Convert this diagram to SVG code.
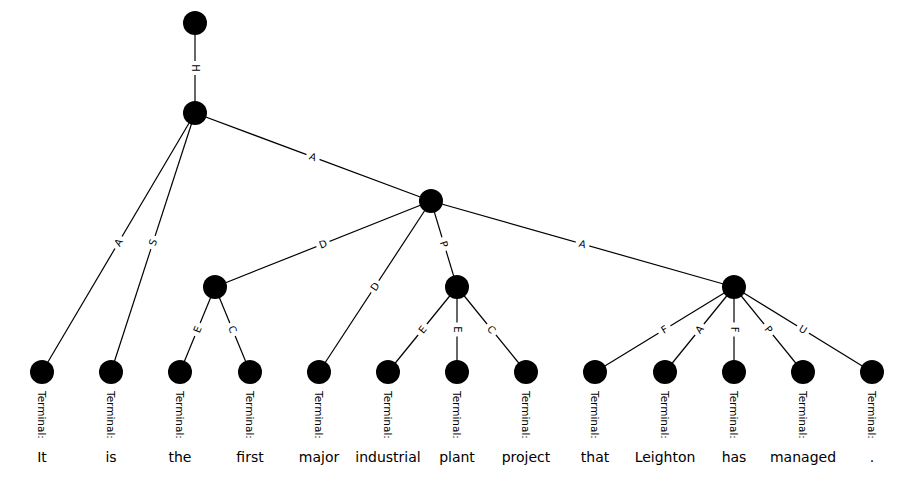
<svg xmlns="http://www.w3.org/2000/svg" width="914" height="481" viewBox="0 0 914 481">
  <style>
    .edge { stroke: #000; stroke-width: 1.2; fill: none; }
    .node { fill: #000; }
    .elbl rect { fill: #fff; stroke: none; }
    .elbl text { font-family: "DejaVu Sans", sans-serif; font-size: 10px; text-anchor: middle; dominant-baseline: central; fill: #000; }
    .tag { font-family: "DejaVu Sans", sans-serif; font-size: 10.5px; dominant-baseline: central; fill: #000; }
    .word { font-family: "DejaVu Sans", sans-serif; font-size: 14px; text-anchor: middle; fill: #000; }
  </style>
  <rect width="914" height="481" fill="#fff"/>

  <!-- tree edges -->
  <g id="connectors">
    <line class="edge" x1="195" y1="23" x2="195" y2="113"/>
    <line class="edge" x1="195" y1="113" x2="42" y2="372"/>
    <line class="edge" x1="195" y1="113" x2="111" y2="372"/>
    <line class="edge" x1="195" y1="113" x2="431" y2="201"/>
    <line class="edge" x1="431" y1="201" x2="215" y2="287"/>
    <line class="edge" x1="431" y1="201" x2="319" y2="372"/>
    <line class="edge" x1="431" y1="201" x2="457" y2="287"/>
    <line class="edge" x1="431" y1="201" x2="734" y2="287"/>
    <line class="edge" x1="215" y1="287" x2="180" y2="372"/>
    <line class="edge" x1="215" y1="287" x2="250" y2="372"/>
    <line class="edge" x1="457" y1="287" x2="388" y2="372"/>
    <line class="edge" x1="457" y1="287" x2="457" y2="372"/>
    <line class="edge" x1="457" y1="287" x2="526" y2="372"/>
    <line class="edge" x1="734" y1="287" x2="595" y2="372"/>
    <line class="edge" x1="734" y1="287" x2="665" y2="372"/>
    <line class="edge" x1="734" y1="287" x2="734" y2="372"/>
    <line class="edge" x1="734" y1="287" x2="803" y2="372"/>
    <line class="edge" x1="734" y1="287" x2="872" y2="372"/>

    <!-- edge labels, set along each edge -->
    <g class="elbl" transform="translate(195,68) rotate(90)"><rect x="-7" y="-6" width="14" height="12"/><text>H</text></g>
    <g class="elbl" transform="translate(118.5,242.5) rotate(-59.43)"><rect x="-7" y="-6" width="14" height="12"/><text>A</text></g>
    <g class="elbl" transform="translate(153,242.5) rotate(-72.03)"><rect x="-7" y="-6" width="14" height="12"/><text>S</text></g>
    <g class="elbl" transform="translate(313,157) rotate(20.45)"><rect x="-7" y="-6" width="14" height="12"/><text>A</text></g>
    <g class="elbl" transform="translate(323,244) rotate(-21.7)"><rect x="-7" y="-6" width="14" height="12"/><text>D</text></g>
    <g class="elbl" transform="translate(375,286.5) rotate(-56.78)"><rect x="-7" y="-6" width="14" height="12"/><text>D</text></g>
    <g class="elbl" transform="translate(444,244) rotate(73.18)"><rect x="-7" y="-6" width="14" height="12"/><text>P</text></g>
    <g class="elbl" transform="translate(582.5,244) rotate(15.85)"><rect x="-7" y="-6" width="14" height="12"/><text>A</text></g>
    <g class="elbl" transform="translate(197.5,329.5) rotate(-67.62)"><rect x="-7" y="-6" width="14" height="12"/><text>E</text></g>
    <g class="elbl" transform="translate(232.5,329.5) rotate(67.62)"><rect x="-7" y="-6" width="14" height="12"/><text>C</text></g>
    <g class="elbl" transform="translate(422.5,329.5) rotate(-50.93)"><rect x="-7" y="-6" width="14" height="12"/><text>E</text></g>
    <g class="elbl" transform="translate(457,329.5) rotate(90)"><rect x="-7" y="-6" width="14" height="12"/><text>E</text></g>
    <g class="elbl" transform="translate(491.5,329.5) rotate(50.93)"><rect x="-7" y="-6" width="14" height="12"/><text>C</text></g>
    <g class="elbl" transform="translate(664.5,329.5) rotate(-31.45)"><rect x="-7" y="-6" width="14" height="12"/><text>F</text></g>
    <g class="elbl" transform="translate(699.5,329.5) rotate(-50.93)"><rect x="-7" y="-6" width="14" height="12"/><text>A</text></g>
    <g class="elbl" transform="translate(734,329.5) rotate(90)"><rect x="-7" y="-6" width="14" height="12"/><text>F</text></g>
    <g class="elbl" transform="translate(768.5,329.5) rotate(50.93)"><rect x="-7" y="-6" width="14" height="12"/><text>P</text></g>
    <g class="elbl" transform="translate(803,329.5) rotate(31.63)"><rect x="-7" y="-6" width="14" height="12"/><text>U</text></g>
  </g>

  <!-- inner nodes -->
  <g id="n-root"><circle class="node" cx="195" cy="23" r="12"/></g>
  <g id="n-1"><circle class="node" cx="195" cy="113" r="12"/></g>
  <g id="n-2"><circle class="node" cx="431" cy="201" r="12"/></g>
  <g id="n-3"><circle class="node" cx="215" cy="287" r="12"/></g>
  <g id="n-4"><circle class="node" cx="457" cy="287" r="12"/></g>
  <g id="n-5"><circle class="node" cx="734" cy="287" r="12"/></g>

  <!-- terminal nodes -->
  <g id="t-it"><circle class="node" cx="42" cy="372" r="12"/><text class="tag" transform="translate(42,391) rotate(90)">Terminal:</text><text class="word" x="42" y="462">It</text></g>
  <g id="t-is"><circle class="node" cx="111" cy="372" r="12"/><text class="tag" transform="translate(111,391) rotate(90)">Terminal:</text><text class="word" x="111" y="462">is</text></g>
  <g id="t-the"><circle class="node" cx="180" cy="372" r="12"/><text class="tag" transform="translate(180,391) rotate(90)">Terminal:</text><text class="word" x="180" y="462">the</text></g>
  <g id="t-first"><circle class="node" cx="250" cy="372" r="12"/><text class="tag" transform="translate(250,391) rotate(90)">Terminal:</text><text class="word" x="250" y="462">first</text></g>
  <g id="t-major"><circle class="node" cx="319" cy="372" r="12"/><text class="tag" transform="translate(319,391) rotate(90)">Terminal:</text><text class="word" x="319" y="462">major</text></g>
  <g id="t-industrial"><circle class="node" cx="388" cy="372" r="12"/><text class="tag" transform="translate(388,391) rotate(90)">Terminal:</text><text class="word" x="388" y="462">industrial</text></g>
  <g id="t-plant"><circle class="node" cx="457" cy="372" r="12"/><text class="tag" transform="translate(457,391) rotate(90)">Terminal:</text><text class="word" x="457" y="462">plant</text></g>
  <g id="t-project"><circle class="node" cx="526" cy="372" r="12"/><text class="tag" transform="translate(526,391) rotate(90)">Terminal:</text><text class="word" x="526" y="462">project</text></g>
  <g id="t-that"><circle class="node" cx="595" cy="372" r="12"/><text class="tag" transform="translate(595,391) rotate(90)">Terminal:</text><text class="word" x="595" y="462">that</text></g>
  <g id="t-leighton"><circle class="node" cx="665" cy="372" r="12"/><text class="tag" transform="translate(665,391) rotate(90)">Terminal:</text><text class="word" x="665" y="462">Leighton</text></g>
  <g id="t-has"><circle class="node" cx="734" cy="372" r="12"/><text class="tag" transform="translate(734,391) rotate(90)">Terminal:</text><text class="word" x="734" y="462">has</text></g>
  <g id="t-managed"><circle class="node" cx="803" cy="372" r="12"/><text class="tag" transform="translate(803,391) rotate(90)">Terminal:</text><text class="word" x="803" y="462">managed</text></g>
  <g id="t-period"><circle class="node" cx="872" cy="372" r="12"/><text class="tag" transform="translate(872,391) rotate(90)">Terminal:</text><text class="word" x="872" y="462">.</text></g>
</svg>
